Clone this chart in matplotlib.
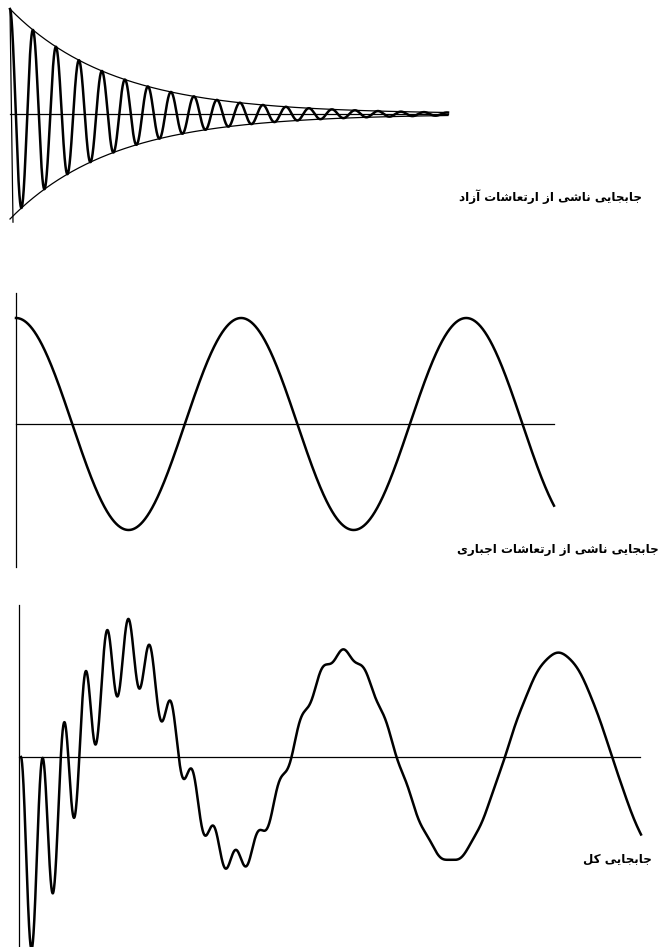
import numpy as np
import matplotlib
matplotlib.use("Agg")
import matplotlib.pyplot as plt

# ---------------- data ----------------
LABELS = ["جابجایی ناشی از ارتعاشات آزاد",
          "جابجایی ناشی از ارتعاشات اجباری",
          "جابجایی کل"]
FREE_AMPLITUDE = 1.0          # initial amplitude of the free vibration
FREE_PERIOD = 0.1             # period of the free vibration
FREE_DECAY_PER_CYCLE = 0.80   # ratio of successive peaks
FORCED_AMPLITUDE = 1.0
FORCED_PERIOD = 1.0
FORCED_PHASE = [0.0, np.pi]   # forced part: middle panel, bottom panel
DURATIONS = [1.904, 2.39, 2.884]  # time span drawn in each panel

# ---------------- simple Persian shaping ----------------
FORMS = {
    '\u0627': ('\uFE8D', '\uFE8E', None, None),
    '\u0622': ('\uFE81', '\uFE82', None, None),
    '\u0628': ('\uFE8F', '\uFE90', '\uFE91', '\uFE92'),
    '\u062A': ('\uFE95', '\uFE96', '\uFE97', '\uFE98'),
    '\u062C': ('\uFE9D', '\uFE9E', '\uFE9F', '\uFEA0'),
    '\u062F': ('\uFEA9', '\uFEAA', None, None),
    '\u0631': ('\uFEAD', '\uFEAE', None, None),
    '\u0632': ('\uFEAF', '\uFEB0', None, None),
    '\u0634': ('\uFEB5', '\uFEB6', '\uFEB7', '\uFEB8'),
    '\u0639': ('\uFEC9', '\uFECA', '\uFECB', '\uFECC'),
    '\u0644': ('\uFEDD', '\uFEDE', '\uFEDF', '\uFEE0'),
    '\u0646': ('\uFEE5', '\uFEE6', '\uFEE7', '\uFEE8'),
    '\u06CC': ('\uFBFC', '\uFBFD', '\uFBFE', '\uFBFF'),
    '\u06A9': ('\uFB8E', '\uFB8F', '\uFB90', '\uFB91'),
}


def shape(s):
    out = []
    for i, c in enumerate(s):
        f = FORMS.get(c)
        if f is None:
            out.append(c)
            continue
        prev = s[i - 1] if i > 0 else ''
        nxt = s[i + 1] if i + 1 < len(s) else ''
        pj = prev in FORMS and FORMS[prev][2] is not None
        nj = f[2] is not None and nxt in FORMS
        if pj and nj:
            g = f[3]
        elif pj:
            g = f[1]
        elif nj:
            g = f[2]
        else:
            g = f[0]
        out.append(g)
    return ''.join(reversed(out))


# ---------------- figure ----------------
W, H = 660, 947
fig = plt.figure(figsize=(W / 100, H / 100), dpi=100)
fig.patch.set_facecolor("white")


def place(px_left, px_right, px_top, px_bottom, xlim, ylim):
    ax = fig.add_axes([px_left / W, 1 - px_bottom / H,
                       (px_right - px_left) / W, (px_bottom - px_top) / H])
    ax.set_xlim(*xlim)
    ax.set_ylim(*ylim)
    ax.axis("off")
    return ax


def free_part(t):
    env = FREE_AMPLITUDE * FREE_DECAY_PER_CYCLE ** (t / FREE_PERIOD)
    return env, env * np.cos(2 * np.pi * t / FREE_PERIOD)


def forced_part(t, phase):
    return FORCED_AMPLITUDE * np.cos(2 * np.pi * t / FORCED_PERIOD + phase)


CURVE_LW = 1.8
THIN_LW = 0.9
TEXT_KW = dict(family=["DejaVu Sans"], fontweight="bold", fontsize=8.6,
               color="black")

# --- top panel: free vibration ---
ax1 = place(10, 448, 9, 219, (0, DURATIONS[0]), (-1, 1))
t1 = np.linspace(0, DURATIONS[0], 4000)
env1, x1 = free_part(t1)
ax1.plot(t1, x1, color="black", lw=CURVE_LW, clip_on=False)
ax1.plot(t1, env1, color="black", lw=THIN_LW, clip_on=False)
ax1.plot(t1, -env1, color="black", lw=THIN_LW, clip_on=False)
ax1.plot([0, DURATIONS[0]], [0, 0], color="black", lw=THIN_LW, clip_on=False)
ax1.plot([0, 0.013], [1, -1.03], color="black", lw=THIN_LW, clip_on=False)
fig.text(642 / W, 1 - 197 / H, shape(LABELS[0]), ha="right", va="center",
         **TEXT_KW)

# --- middle panel: forced vibration ---
ax2 = place(16, 554, 318, 530, (0, DURATIONS[1]), (-1, 1))
t2 = np.linspace(0, DURATIONS[1], 3000)
ax2.plot(t2, forced_part(t2, FORCED_PHASE[0]), color="black", lw=CURVE_LW,
         clip_on=False)
ax2.plot([0, DURATIONS[1]], [0, 0], color="black", lw=THIN_LW, clip_on=False)
ax2.plot([0, 0], [1.236, -1.349], color="black", lw=THIN_LW, clip_on=False)
fig.text(457 / W, 1 - 550 / H, shape(LABELS[1]), ha="left", va="center",
         **TEXT_KW)

# --- bottom panel: total displacement ---
ax3 = place(21, 641, 653, 861, (0, DURATIONS[2]), (-1, 1))
t3 = np.linspace(0, DURATIONS[2], 5000)
_, x3f = free_part(t3)
x3 = x3f + forced_part(t3, FORCED_PHASE[1])
ax3.plot(t3, x3, color="black", lw=CURVE_LW, clip_on=False)
ax3.plot([-0.009, DURATIONS[2] - 0.005], [0, 0], color="black", lw=THIN_LW,
         clip_on=False)
ax3.plot([-0.009, -0.009], [1.46, -1.9], color="black", lw=THIN_LW,
         clip_on=False)
fig.text(652 / W, 1 - 859 / H, shape(LABELS[2]), ha="right", va="center",
         **TEXT_KW)

fig.savefig("out.png", dpi=100, facecolor="white")
